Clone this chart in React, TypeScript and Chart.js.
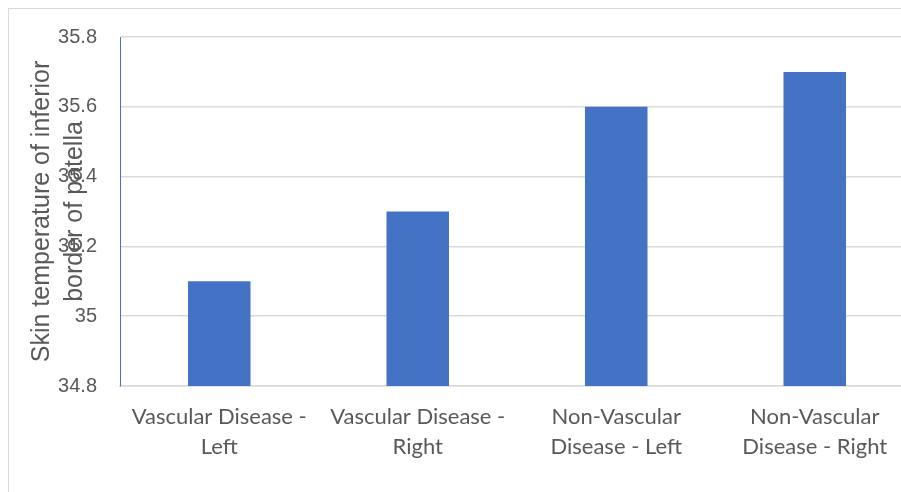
import React, { useEffect, useRef } from "react";
import { Chart, registerables } from "chart.js";

Chart.register(...registerables);

const categories: string[][] = [
  ["Vascular Disease -", "Left"],
  ["Vascular Disease -", "Right"],
  ["Non-Vascular", "Disease - Left"],
  ["Non-Vascular", "Disease - Right"],
];
const values: number[] = [35.1, 35.3, 35.6, 35.7];
const yMin = 34.8;
const yMax = 35.8;
const yStep = 0.2;
const yTitleLines: string[] = ["Skin temperature of inferior", "border of patella"];

const titlePlugin = {
  id: "overlapTitle",
  afterDraw(chart: any) {
    const { ctx, chartArea } = chart;
    const cy = (chartArea.top + chartArea.bottom) / 2;
    ctx.save();
    ctx.fillStyle = "#595959";
    ctx.font = '25px "Liberation Sans", Arial, sans-serif';
    ctx.textAlign = "center";
    ctx.textBaseline = "middle";
    const offsets = [-78, -45];
    yTitleLines.forEach((line, i) => {
      ctx.save();
      ctx.translate(chartArea.left + offsets[i], cy);
      ctx.rotate(-Math.PI / 2);
      ctx.fillText(line, 0, 0);
      ctx.restore();
    });
    ctx.restore();
  },
};

export default function App() {
  const ref = useRef<HTMLCanvasElement | null>(null);
  useEffect(() => {
    document.body.style.overflow = "hidden";
    document.documentElement.style.overflow = "hidden";
    if (!ref.current) return;
    const chart = new Chart(ref.current, {
      type: "bar",
      data: {
        labels: categories,
        datasets: [
          {
            data: values,
            backgroundColor: "#4472C4",
            barPercentage: 0.315,
            categoryPercentage: 1,
          },
        ],
      },
      options: {
        animation: false,
        responsive: false,
        maintainAspectRatio: false,
        layout: { padding: { top: 20, right: 5, left: 0, bottom: 0 } },
        plugins: { legend: { display: false }, tooltip: { enabled: false } },
        scales: {
          x: {
            grid: { display: false, drawTicks: false },
            border: { display: true, color: "#d9d9d9", width: 1.5 },
            ticks: {
              color: "#595959",
              font: { family: "Lato, 'Noto Sans', sans-serif", size: 22, lineHeight: 1.36 },
              padding: 16,
              maxRotation: 0,
              autoSkip: false,
            },
            afterFit(scale: any) {
              scale.height = 106;
            },
          },
          y: {
            min: yMin,
            max: yMax,
            grid: { color: "#d9d9d9", lineWidth: 1.5, drawTicks: false },
            border: { display: true, color: "#4472C4", width: 1 },
            ticks: {
              stepSize: yStep,
              color: "#595959",
              font: { family: "'Liberation Sans', Arial, sans-serif", size: 20 },
              padding: 23,
              callback: (v: any) => String(Math.round(Number(v) * 10) / 10),
            },
            afterFit(scale: any) {
              scale.width = 111;
            },
          },
        },
      },
      plugins: [titlePlugin],
    });
    return () => chart.destroy();
  }, []);
  return (
    <div
      style={{
        position: "fixed",
        left: 8,
        top: 8,
        right: 0,
        bottom: 0,
        overflow: "hidden",
      }}
    >
      <div
        style={{
          width: 920,
          height: 500,
          border: "1px solid #d9d9d9",
          boxSizing: "border-box",
          background: "#fff",
        }}
      >
        <canvas
          ref={ref}
          width={910}
          height={490}
          style={{ display: "block", marginTop: -7 }}
        />
      </div>
    </div>
  );
}
